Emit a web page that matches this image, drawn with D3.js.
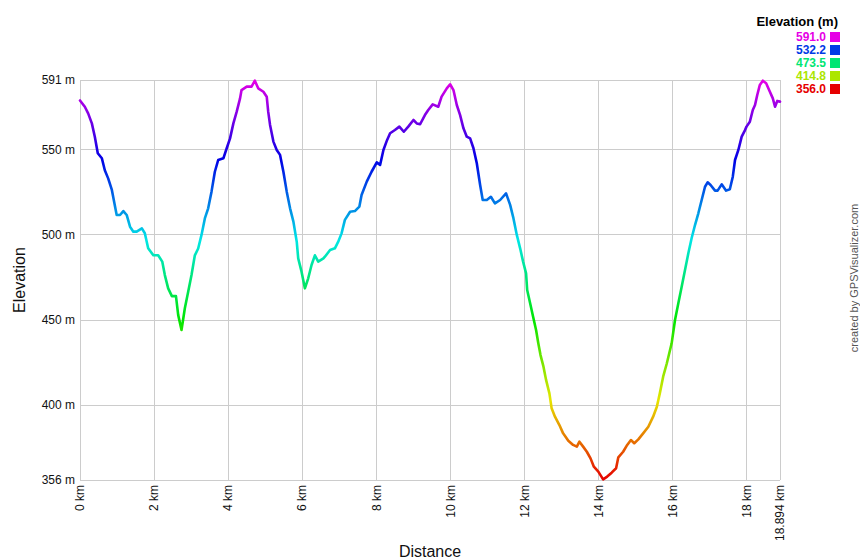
<!DOCTYPE html>
<html><head><meta charset="utf-8">
<script src="https://cdn.jsdelivr.net/npm/d3@7"></script>
<style>
html,body{margin:0;padding:0;background:#fff;}
svg{display:block;font-family:"Liberation Sans",Arial,sans-serif;}
</style></head><body>
<svg id="chart" width="860" height="560"></svg>
<script>
const distanceKm = [0,0.13,0.22,0.32,0.40,0.48,0.59,0.67,0.76,0.86,0.93,0.99,1.08,1.17,1.26,1.35,1.44,1.53,1.67,1.75,1.84,1.98,2.11,2.22,2.29,2.38,2.48,2.59,2.65,2.74,2.83,2.92,3.01,3.10,3.19,3.28,3.37,3.46,3.55,3.64,3.73,3.87,3.96,4.05,4.14,4.23,4.32,4.36,4.50,4.63,4.72,4.81,4.95,5.04,5.08,5.13,5.22,5.31,5.40,5.49,5.58,5.67,5.76,5.85,5.89,5.98,6.07,6.16,6.25,6.34,6.43,6.57,6.61,6.75,6.88,6.97,7.06,7.15,7.29,7.42,7.54,7.60,7.74,7.87,8.01,8.10,8.19,8.29,8.37,8.50,8.62,8.74,8.86,9.00,9.09,9.18,9.31,9.40,9.52,9.67,9.76,9.90,9.99,10.08,10.17,10.26,10.35,10.44,10.53,10.62,10.71,10.80,10.87,10.98,11.09,11.20,11.34,11.50,11.61,11.70,11.79,11.88,11.96,12.04,12.07,12.15,12.23,12.31,12.37,12.43,12.51,12.58,12.67,12.73,12.82,12.94,13.04,13.18,13.31,13.41,13.48,13.58,13.68,13.78,13.87,13.99,14.12,14.23,14.35,14.47,14.53,14.66,14.77,14.87,14.96,15.07,15.20,15.34,15.47,15.57,15.65,15.74,15.84,15.97,16.06,16.15,16.24,16.33,16.42,16.51,16.60,16.69,16.78,16.87,16.94,17.02,17.14,17.21,17.32,17.44,17.54,17.62,17.68,17.77,17.86,17.95,17.99,18.08,18.16,18.22,18.28,18.35,18.43,18.52,18.60,18.70,18.76,18.82,18.894];
const elevationM = [579,575.3,571.4,565.5,557.7,548,545,538,533.2,526.4,518.5,511.7,511.7,514,511.7,504.8,501.9,501.9,503.8,501,492.1,488,488,484.3,476.4,468.6,464,464,453,444.1,456.9,466.6,476.4,488,492,500,509.7,515.6,525.4,537.1,544,545,550.9,556.7,565.5,572.4,580.2,585.1,587.1,587.1,590.6,586.1,584.1,581.2,572.4,564.6,554.8,549.9,547,537.1,525.4,515.6,507.8,496,486.2,478.4,468.6,474.5,482.3,488,484.3,486.2,487.2,491.1,492.1,496,500.9,508.8,513.6,514,516.6,523.4,531.3,537.1,542.6,541.1,549.9,555.8,559.7,561.6,563.6,560.6,563.6,567.5,565.5,565,570.4,573.4,576.7,575.3,581.2,586.1,588.5,585.1,576.3,570.4,562.6,557.7,556.7,550.9,542.1,529.3,520.5,520.5,522.4,518.5,520.5,524.4,517.6,509.7,500,492.1,484.3,477.4,467.6,459.8,451.9,444.1,436.3,429.4,422.6,414.8,406.9,398.1,393.2,388.3,383.4,379.1,376.6,375.6,378.5,375.6,372.6,368.7,363.8,360.9,356.4,358,360.3,362.9,369.3,372.6,376.6,379.5,377.6,379.9,383.4,387.3,393.2,399,406.9,416.7,424.6,436.3,450,459.8,469.6,479.4,489.2,498.2,505.8,512.7,520.5,528.3,530.9,529.3,526,526,529.7,526,526.8,534.2,544,549.9,557.7,561.6,563.6,566.5,573.4,576.3,582.2,588.1,590.6,589.1,585.1,580.2,575.3,578.7,578.3];
const xTicks = [0,2,4,6,8,10,12,14,16,18,18.894];
const xTickLabels = ["0 km","2 km","4 km","6 km","8 km","10 km","12 km","14 km","16 km","18 km","18.894 km"];
const yTicks = [356,400,450,500,550,591];
const yTickLabels = ["356 m","400 m","450 m","500 m","550 m","591 m"];
const legendValues = [591.0,532.2,473.5,414.8,356.0];
const legendLabels = ["591.0","532.2","473.5","414.8","356.0"];

(function () {
const svg = d3.select("#chart");
const pLeft = 80, pRight = 780, pTop = 80, pBottom = 480;
const x = d3.scaleLinear().domain([0, 18.894]).range([pLeft, pRight]);
const y = d3.scaleLinear().domain([356, 591]).range([pBottom, pTop]);
const minE = 356, maxE = 591;
const colorOf = v => d3.hsl(300 * (v - minE) / (maxE - minE), 1, 0.45).formatHex();

// grid
const g = svg.append("g");
g.selectAll("line.v").data(xTicks).join("line")
  .attr("x1", d => x(d)).attr("x2", d => x(d)).attr("y1", pTop).attr("y2", pBottom)
  .attr("stroke", "#cccccc").attr("stroke-width", 1).attr("shape-rendering", "crispEdges");
g.selectAll("line.h").data(yTicks).join("line")
  .attr("x1", pLeft).attr("x2", pRight).attr("y1", d => y(d)).attr("y2", d => y(d))
  .attr("stroke", "#cccccc").attr("stroke-width", 1).attr("shape-rendering", "crispEdges");

// axes labels
svg.append("g").selectAll("text").data(yTicks).join("text")
  .attr("x", pLeft - 5).attr("y", d => y(d)).attr("dy", "0.35em")
  .attr("text-anchor", "end").attr("font-size", 12).attr("fill", "#111")
  .text((d, i) => yTickLabels[i]);
svg.append("g").selectAll("text").data(xTicks).join("text")
  .attr("transform", d => `translate(${x(d)},${pBottom + 5}) rotate(-90)`)
  .attr("dy", "0.35em").attr("text-anchor", "end").attr("font-size", 12).attr("fill", "#111")
  .text((d, i) => xTickLabels[i]);

svg.append("text").attr("x", (pLeft + pRight) / 2).attr("y", 557).attr("text-anchor", "middle")
  .attr("font-size", 16).attr("fill", "#111").text("Distance");
svg.append("text").attr("transform", `translate(25,${(pTop + pBottom) / 2}) rotate(-90)`)
  .attr("text-anchor", "middle").attr("font-size", 16).attr("fill", "#111").text("Elevation");

// gradient by elevation
const defs = svg.append("defs");
const grad = defs.append("linearGradient").attr("id", "elevGrad")
  .attr("gradientUnits", "userSpaceOnUse")
  .attr("x1", 0).attr("x2", 0).attr("y1", y(minE)).attr("y2", y(maxE));
d3.range(0, 31).forEach(i => {
  const v = minE + (maxE - minE) * i / 30;
  grad.append("stop").attr("offset", (i / 30)).attr("stop-color", colorOf(v));
});

const data = distanceKm.map((d, i) => [d, elevationM[i]]);
const line = d3.line().x(d => x(d[0])).y(d => y(d[1]));
svg.append("path").datum(data).attr("d", line)
  .attr("fill", "none").attr("stroke", "url(#elevGrad)").attr("stroke-width", 2.6)
  .attr("stroke-linejoin", "round").attr("stroke-linecap", "round");

// legend
svg.append("text").attr("x", 838).attr("y", 26).attr("text-anchor", "end")
  .attr("font-size", 13).attr("font-weight", "bold").attr("fill", "#000").text("Elevation (m)");
const lg = svg.append("g");
legendValues.forEach((v, i) => {
  const yy = 41 + i * 13;
  lg.append("text").attr("x", 826).attr("y", yy).attr("text-anchor", "end")
    .attr("font-size", 12).attr("font-weight", "bold").attr("fill", colorOf(v)).text(legendLabels[i]);
  lg.append("rect").attr("x", 830).attr("y", yy - 9).attr("width", 10).attr("height", 10)
    .attr("fill", colorOf(v));
});

// credit
svg.append("text").attr("transform", "translate(858,278) rotate(-90)")
  .attr("text-anchor", "middle").attr("font-size", 11).attr("fill", "#555")
  .text("created by GPSVisualizer.com");
})();
</script>
</body></html>
